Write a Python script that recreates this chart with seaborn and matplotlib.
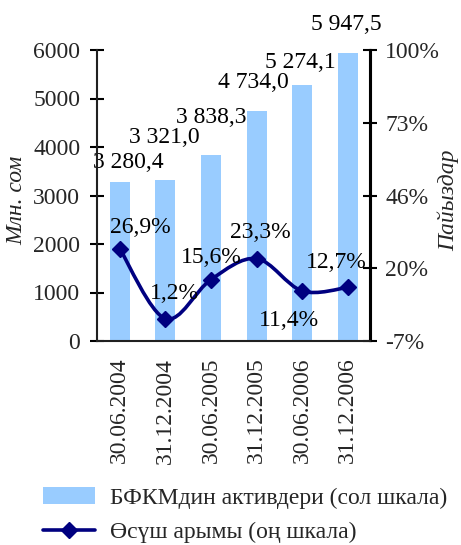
import numpy as np
import pandas as pd
import matplotlib
matplotlib.use("Agg")
import matplotlib.pyplot as plt
from matplotlib.path import Path
from matplotlib.patches import PathPatch, Patch
from matplotlib.lines import Line2D
import seaborn as sns

# Data
dates = ["30.06.2004", "31.12.2004", "30.06.2005", "31.12.2005", "30.06.2006", "31.12.2006"]
assets = [3280.4, 3321.0, 3838.3, 4734.0, 5274.1, 5947.5]          # mln som, left scale
growth = [26.9, 1.2, 15.6, 23.3, 11.4, 12.7]                          # %, right scale
asset_labels = ["3 280,4", "3 321,0", "3 838,3", "4 734,0", "5 274,1", "5 947,5"]
growth_labels = ["26,9%", "1,2%", "15,6%", "23,3%", "11,4%", "12,7%"]
left_ticks = [0, 1000, 2000, 3000, 4000, 5000, 6000]
right_ticks = [-7, 19.75, 46.5, 73.25, 100]
right_ticklabels = ["-7%", "20%", "46%", "73%", "100%"]

# Label offsets (pixels: dx, dy upward)
asset_offsets = [(9, 19), (-1, 42), (0.5, 37), (-3, 29), (-2, 22.5), (-1, 28)]
growth_offsets = [(21, 21), (9, 25), (0, 21.7), (4, 26), (-13, -30), (-11, 25)]

BAR = "#99CCFF"
LINE = "#000080"
FS = 17

sns.set_theme(style="white")
plt.rcParams["font.family"] = ["Liberation Serif", "DejaVu Serif"]
plt.rcParams["mathtext.default"] = "regular"

W, H = 461, 545
fig = plt.figure(figsize=(W / 100, H / 100), dpi=100)
ax = fig.add_axes([97 / W, 1 - 341 / H, (370.5 - 97) / W, (341 - 50) / H])

df = pd.DataFrame({"date": dates, "assets": assets})
sns.barplot(data=df, x="date", y="assets", ax=ax, color=BAR, saturation=1,
            width=0.44, edgecolor="none")
ax.set_xlim(-0.5, len(dates) - 0.5)
ax.set_ylim(0, 6000)
ax.set_yticks(left_ticks)
ax.set_yticklabels([str(t) for t in left_ticks])
ax.set_xlabel("")
ax.set_ylabel("")

# category boundary ticks on x, labels at bar centres
ax.set_xticks(np.arange(-0.5, len(dates), 1.0))
ax.set_xticklabels([])
ax.set_xticks(np.arange(len(dates)), minor=True)
ax.set_xticklabels(dates, minor=True, rotation=90, fontsize=FS)
ax.tick_params(axis="x", which="major", direction="inout", length=10, width=1.5, color="black")
ax.tick_params(axis="x", which="minor", length=0, pad=12)
ax.tick_params(axis="y", direction="inout", length=10, width=1.5, color="black",
               labelsize=FS, pad=7, left=True)

for s in ["top"]:
    ax.spines[s].set_visible(False)
for s in ["left", "bottom", "right"]:
    ax.spines[s].set_color("black")
    ax.spines[s].set_linewidth(1.5)

# Right axis with growth rate
ax2 = ax.twinx()
ax2.set_ylim(-7, 100)
ax2.set_yticks(right_ticks)
ax2.set_yticklabels(right_ticklabels)
ax2.tick_params(axis="y", direction="inout", length=10, width=1.5, color="black",
                labelsize=FS, pad=5.5, right=True)
ax2.spines["top"].set_visible(False)
ax2.spines["right"].set_color("black")
ax2.spines["right"].set_linewidth(1.5)
ax2.grid(False)
ax.grid(False)

# smoothed growth line (Catmull-Rom as cubic Bezier segments)
x = np.arange(len(growth), dtype=float)
y = np.array(growth, dtype=float)
pts = np.column_stack([x, y])
ext = np.vstack([pts[0], pts, pts[-1]])
verts = [tuple(pts[0])]
codes = [Path.MOVETO]
for i in range(len(pts) - 1):
    p0, p1, p2, p3 = ext[i], ext[i + 1], ext[i + 2], ext[i + 3]
    c1 = p1 + (p2 - p0) / 6.0
    c2 = p2 - (p3 - p1) / 6.0
    verts += [tuple(c1), tuple(c2), tuple(p2)]
    codes += [Path.CURVE4] * 3
ax2.add_patch(PathPatch(Path(verts, codes), facecolor="none", edgecolor=LINE,
                        lw=2.6, capstyle="round", joinstyle="round", zorder=3))
ax2.plot(x, y, linestyle="none", marker="D", markersize=8.5, color=LINE, zorder=4)

# value labels
for i, (v, lab, (dx, dy)) in enumerate(zip(assets, asset_labels, asset_offsets)):
    ax.annotate(lab, xy=(i, v), xytext=(dx * 0.72, dy * 0.72), textcoords="offset points",
                ha="center", va="center", fontsize=FS, color="black")
for i, (v, lab, (dx, dy)) in enumerate(zip(growth, growth_labels, growth_offsets)):
    ax2.annotate(lab, xy=(i, v), xytext=(dx * 0.72, dy * 0.72), textcoords="offset points",
                 ha="center", va="center", fontsize=FS, color="black", zorder=5)

# axis titles
fig.text(17 / W, 1 - 200 / H, "Млн. сом", rotation=90, ha="center", va="center",
         fontsize=FS, style="italic")
fig.text(448 / W, 1 - 200 / H, "Пайыздар", rotation=90, ha="center", va="center",
         fontsize=FS, style="italic")

# legend
handles = [Patch(facecolor=BAR, edgecolor="none"),
           Line2D([0], [0], color=LINE, lw=2.6, marker="D", markersize=8.5)]
labels = ["БФКМдин активдери (сол шкала)", "Өсүш арымы (оң шкала)"]
fig.legend(handles, labels, loc="upper left", bbox_to_anchor=(43 / W, 1 - 487 / H),
           frameon=False, fontsize=FS, handlelength=2.2, handletextpad=0.65,
           borderpad=0, borderaxespad=0, labelspacing=0.55)

fig.savefig("out.png", dpi=100)
